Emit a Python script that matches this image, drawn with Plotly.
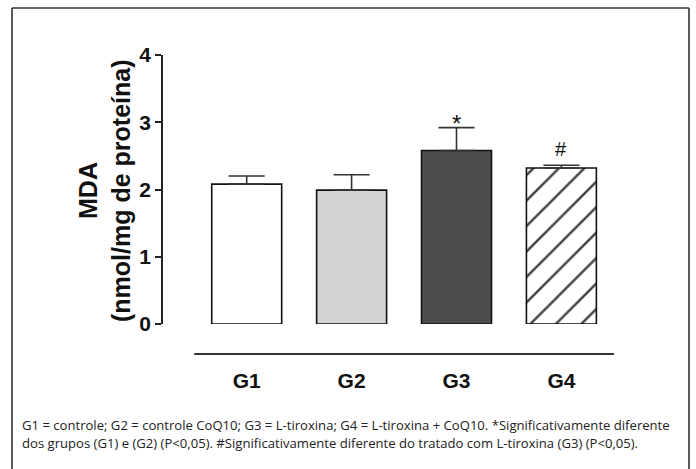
import plotly.graph_objects as go

groups = ["G1", "G2", "G3", "G4"]
mda = [2.08, 1.99, 2.58, 2.32]
sem = [0.12, 0.23, 0.34, 0.04]
marks = ["", "", "*", "#"]
fills = ["#ffffff", "#d3d3d3", "#4d4d4f", "#ffffff"]
patterns = ["", "", "", "/"]
y_ticks = [0, 1, 2, 3, 4]
y_title = ["MDA", "(nmol/mg de proteína)"]
caption = ["G1 = controle; G2 = controle CoQ10; G3 = L-tiroxina; G4 = L-tiroxina + CoQ10. *Significativamente diferente",
           "dos grupos (G1) e (G2) (P<0,05). #Significativamente diferente do tratado com L-tiroxina (G3) (P<0,05)."]

W, H = 696, 469
def px(x):
    return x / W
def py(y):
    return (H - y) / H

x = list(range(len(groups)))
step = 104.9
x0_px, x1_px = 163, 650
center0 = 246.7
xr = [(x0_px - center0) / step, (x1_px - center0) / step]

fig = go.Figure()
fig.add_trace(go.Bar(
    x=x, y=mda,
    marker=dict(color=fills, line=dict(color="#111111", width=1.6),
                pattern=dict(shape=patterns, fgcolor="#000000", bgcolor="#ffffff", fgopacity=1,
                             size=18, solidity=0.14)),
    error_y=dict(type="data", symmetric=False, array=sem, arrayminus=[0] * len(sem),
                 color="#333333", thickness=1.6, width=18),
    width=0.667,
    showlegend=False,
))

mark_shift = {"*": 4, "#": 16}
mark_size = {"*": 24, "#": 20}
for xi, v, e, m in zip(x, mda, sem, marks):
    if m:
        fig.add_annotation(x=xi, y=v + e, text=m, showarrow=False, yanchor="middle", yshift=mark_shift[m],
                           font=dict(family="Liberation Sans, Arial", size=mark_size[m], color="#111111"))

fig.add_shape(type="line", xref="x", yref="paper", x0=-0.5, x1=3.5, y0=py(354), y1=py(354),
              line=dict(color="#333333", width=2))

# frame
frame = dict(color="#333333", width=1.6)
fig.add_shape(type="line", xref="paper", yref="paper", x0=px(12), x1=px(12), y0=py(8), y1=-0.02, line=frame)
fig.add_shape(type="line", xref="paper", yref="paper", x0=px(12), x1=px(689), y0=py(8), y1=py(8), line=frame)
fig.add_shape(type="line", xref="paper", yref="paper", x0=px(689), x1=px(689), y0=py(8), y1=-0.02, line=frame)

# y-axis title (two lines, rotated)
for txt, cx in zip(y_title, [88, 121]):
    fig.add_annotation(xref="paper", yref="paper", x=px(cx), y=py(191), text=txt, textangle=-90,
                       showarrow=False, xanchor="center", yanchor="middle",
                       font=dict(family="Liberation Sans, Arial", size=25, color="#111111", weight="bold"))

for i, line in enumerate(caption):
    fig.add_annotation(xref="paper", yref="paper", x=px(20), y=py(425 + 18 * i), text=line,
                       showarrow=False, xanchor="left", yanchor="middle",
                       font=dict(family="Open Sans", size=13.1, color="#222222"))

fig.update_layout(
    width=W, height=H,
    margin=dict(l=0, r=0, t=0, b=0, autoexpand=False),
    paper_bgcolor="white", plot_bgcolor="white",
    xaxis=dict(domain=[px(x0_px), px(x1_px)], range=xr, tickmode="array", tickvals=x, ticktext=groups,
               showline=False, showgrid=False, zeroline=False, ticks="", automargin=False,
               ticklabelstandoff=42,
               tickfont=dict(family="Liberation Sans, Arial", size=21, color="#111111", weight="bold")),
    yaxis=dict(domain=[py(324), py(55)], range=[0, 4], tickvals=y_ticks, automargin=False,
               showline=True, linecolor="#222222", linewidth=1.6,
               ticks="outside", ticklen=6, tickwidth=1.6, tickcolor="#222222",
               showgrid=False, zeroline=False,
               tickfont=dict(family="Liberation Sans, Arial", size=21, color="#111111", weight="bold")),
)

fig.write_html("out.html")
